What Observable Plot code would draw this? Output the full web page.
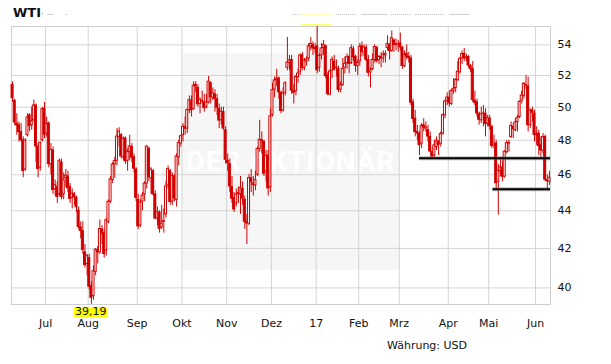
<!DOCTYPE html>
<html><head><meta charset="utf-8">
<script src="https://cdn.jsdelivr.net/npm/d3@7"></script>
<script src="https://cdn.jsdelivr.net/npm/@observablehq/plot@0.6"></script>
<style>
body{margin:0;background:#fff;}
#wrap{position:relative;width:611px;height:364px;overflow:hidden;font-family:"DejaVu Sans",sans-serif;color:#111;}
#wrap svg{position:absolute;left:0;top:0;}
.abs{position:absolute;}
#wm{left:182px;top:53px;width:218px;height:217px;background:#f6f6f6;border-radius:4px;
  color:#fff;font:bold 28px "Roboto","DejaVu Sans",sans-serif;letter-spacing:1px;text-align:center;line-height:217px;white-space:nowrap;}
#title{left:13px;top:5px;font-weight:bold;font-size:13px;line-height:15px;}
#cur{left:387px;top:339px;font-size:11px;line-height:13px;}
.lab{background:#ffff00;font-size:11px;line-height:10px;height:10px;padding:0 1px;text-align:center;}
.dot{height:0;border-top:1px dotted #c4c4c4;}
.dash{height:1px;background:#d0d0d0;}
</style></head><body><div id="wrap"><div id="wm" class="abs">DER AKTIONÄR</div></div>
<script>
// Daily OHLC, WTI, 9 Jun 2016 .. 9 Jun 2017 (trading-day index)
const open = [51.40,50.40,49.00,48.90,48.50,48.00,46.30,48.30,49.50,48.90,49.20,50.10,47.60,46.40,48.00,49.90,
48.40,49.00,46.60,47.40,45.20,45.30,44.90,46.70,44.90,45.80,45.90,45.30,44.70,44.90,44.70,44.00,43.10,42.90,41.80,41.20,
41.50,40.10,39.60,40.80,41.90,41.80,43.00,42.80,41.90,43.40,44.50,45.70,46.60,46.80,48.20,48.30,47.00,48.10,46.80,47.30,47.60,47.00,46.30,
44.60,43.20,44.50,44.90,45.50,47.50,45.80,46.20,44.90,43.60,43.90,43.10,43.40,43.80,45.40,46.20,44.50,45.90,44.60,47.00,47.80,
48.30,48.80,48.70,49.80,50.40,49.90,51.40,51.20,50.20,50.40,50.30,50.00,50.30,51.50,50.60,50.80,50.50,49.90,49.20,49.70,48.60,
46.80,46.60,45.30,44.70,44.40,44.90,44.90,45.20,44.60,43.40,43.30,45.80,45.50,45.40,46.00,47.50,48.00,47.90,46.20,47.10,45.30,
49.50,51.10,51.70,51.80,50.90,49.80,50.90,52.50,52.80,53.00,51.00,51.00,51.90,52.20,53.30,52.50,52.90,53.10,53.90,54.00,53.80,
53.90,52.50,53.30,53.80,53.90,52.00,50.80,52.30,52.90,52.50,52.40,51.10,51.40,52.50,52.80,53.20,52.80,53.70,53.20,52.60,
52.90,53.90,53.50,53.80,53.00,52.20,52.40,53.00,53.80,53.00,53.20,53.10,53.30,53.80,54.00,53.60,54.30,54.00,54.00,
54.10,53.80,52.60,53.40,53.20,53.10,50.30,49.30,48.50,48.40,47.80,48.90,48.70,48.60,48.20,47.30,47.10,47.60,47.90,47.80,48.40,49.50,50.40,
50.60,50.20,51.00,51.20,51.70,52.20,53.10,53.40,53.10,53.20,52.60,52.40,50.40,50.30,49.60,49.20,49.60,49.60,49.00,
49.30,48.80,47.70,47.80,45.60,46.20,46.40,45.90,47.30,47.80,48.20,48.80,48.60,49.10,49.40,50.40,50.70,51.40,51.30,48.90,49.80,49.60,
48.30,48.40,47.70,47.40,48.20,45.70,45.60];
const high = [51.60,50.50,49.60,49.10,49.00,48.20,48.10,49.60,49.60,50.00,50.45,50.20,47.80,47.90,50.00,50.30,
49.40,49.10,47.80,47.60,45.70,45.60,46.90,46.90,46.10,46.30,46.20,45.50,45.20,45.00,44.80,44.20,43.40,43.40,42.20,41.70,
41.70,40.30,41.10,42.00,42.10,43.50,43.20,43.00,43.60,44.60,45.90,46.70,47.00,48.70,48.75,48.40,48.20,48.20,47.50,48.30,47.80,47.20,46.40,
44.90,44.60,45.00,45.60,47.70,47.60,46.40,46.30,45.10,44.20,44.00,44.30,44.10,45.60,46.50,46.30,46.10,46.00,47.20,48.00,48.30,
49.00,49.40,49.90,50.70,50.70,51.60,51.60,51.40,50.60,51.00,50.80,50.80,51.93,51.60,51.20,51.10,50.80,50.20,50.00,50.00,48.80,
47.20,46.90,45.90,45.00,45.20,45.30,45.90,45.60,44.80,43.80,46.00,46.30,45.90,46.20,47.60,49.20,48.50,48.00,47.40,47.40,49.90,
51.50,51.90,52.40,51.90,51.00,51.20,51.60,54.50,53.30,53.30,51.40,52.00,52.40,53.40,53.50,53.10,53.20,54.10,54.50,54.20,54.10,
55.24,53.40,54.10,54.30,54.00,52.20,52.40,53.20,53.30,53.00,52.60,51.60,53.10,53.20,53.40,53.30,54.00,53.90,53.30,53.00,
54.10,54.20,54.00,54.00,53.30,52.50,53.40,54.00,53.90,53.30,53.50,53.60,53.60,54.60,54.10,54.94,54.40,54.40,54.30,
54.80,53.90,53.60,54.00,53.50,53.30,50.50,49.80,48.90,48.50,49.00,49.30,49.10,48.90,48.50,47.60,48.00,48.20,48.00,48.50,49.60,50.45,50.90,
51.00,51.10,51.80,51.80,52.90,53.15,53.60,53.76,53.40,53.30,52.70,52.90,51.00,50.50,49.70,50.00,50.10,49.90,49.50,
49.50,48.90,48.30,48.00,46.60,47.00,46.80,47.40,48.00,48.00,49.10,49.00,49.30,49.50,50.40,51.00,51.55,52.00,51.90,49.90,50.00,49.80,
48.80,48.60,48.20,48.40,48.30,46.00,46.20];
const low = [50.30,48.90,48.30,47.90,47.90,45.83,46.20,48.20,48.50,48.60,49.10,46.70,45.83,46.20,47.90,48.10,
48.20,46.40,46.00,44.90,44.80,44.40,44.80,44.60,44.60,45.30,45.00,44.40,44.10,44.30,43.90,43.00,42.50,41.70,41.00,40.60,
39.90,39.19,39.40,40.60,41.20,41.70,42.20,41.50,41.60,43.30,44.40,45.50,45.80,46.50,47.60,46.90,46.80,46.60,46.20,46.80,46.70,46.10,44.50,
43.00,43.10,44.00,44.50,45.20,45.60,44.90,44.80,43.50,43.20,42.80,43.00,42.80,43.60,45.20,44.30,44.30,44.50,44.20,46.50,47.60,
47.90,48.30,48.40,49.60,49.40,49.80,50.90,50.00,49.60,50.20,49.70,49.90,50.20,50.20,50.40,49.70,49.50,48.70,48.90,48.60,46.60,
46.20,45.00,44.40,43.90,44.20,44.40,43.80,44.30,43.00,42.20,43.20,45.00,44.80,45.10,45.90,47.30,47.20,45.90,45.60,44.80,45.00,
49.40,50.60,51.30,50.50,49.60,49.70,50.70,52.30,52.30,50.80,50.20,50.70,51.50,52.00,52.30,52.30,52.60,52.90,53.60,53.30,53.40,
52.11,52.20,53.00,53.30,51.80,50.70,50.70,51.80,52.30,51.90,50.90,50.90,51.30,52.10,52.40,52.10,52.70,52.90,52.20,52.00,
52.60,53.20,53.20,52.90,51.90,51.20,52.30,52.80,52.80,52.70,52.50,52.80,52.80,53.60,53.00,53.50,53.50,53.60,53.50,
53.60,52.40,52.50,53.00,52.80,50.10,49.00,48.20,48.00,47.10,47.50,48.50,48.50,47.90,47.30,47.00,47.00,47.40,47.10,47.60,48.30,49.30,50.10,
50.00,50.10,50.80,50.90,51.60,52.10,52.70,52.90,52.90,52.50,52.20,50.30,50.10,49.40,48.90,49.00,48.80,48.20,48.80,
48.60,47.50,47.50,45.20,43.76,45.90,45.60,45.80,47.20,47.30,48.10,48.10,48.50,48.50,49.30,50.20,50.50,51.10,48.50,48.70,49.10,47.90,
47.70,47.10,47.00,47.20,45.60,45.20,45.40];
const close = [50.56,49.07,48.88,48.49,48.01,46.21,47.98,49.37,48.85,49.13,50.11,47.64,46.33,47.85,49.88,48.33,
48.99,46.60,47.43,45.14,45.41,44.76,46.80,44.75,45.68,45.95,45.24,44.65,44.94,44.75,44.19,43.13,42.92,41.92,41.14,41.60,
40.06,39.51,40.83,41.93,41.80,43.02,42.77,41.71,43.49,44.49,45.74,46.58,46.79,48.22,48.52,47.05,48.10,46.77,47.33,47.64,46.98,46.35,44.70,
43.16,44.44,44.83,45.50,47.62,45.88,46.29,44.90,43.58,43.91,43.03,43.30,43.44,45.34,46.32,44.48,45.93,44.67,47.05,47.83,48.24,
48.81,48.69,49.83,50.44,49.81,51.35,51.29,50.18,50.44,50.35,49.94,50.29,51.60,50.63,50.85,50.52,49.96,49.18,49.72,48.70,46.86,
46.67,45.34,44.66,44.07,44.89,44.98,45.27,44.66,43.41,43.32,45.81,45.57,45.42,45.69,47.49,48.03,47.96,46.06,47.08,45.23,49.44,
51.06,51.68,51.79,50.93,49.77,50.84,51.50,52.83,52.98,51.04,50.90,51.90,52.12,53.30,52.49,52.95,53.02,53.90,54.06,53.77,53.72,
52.33,53.26,53.76,53.99,51.96,50.82,52.25,53.01,52.37,52.48,51.08,51.37,52.42,52.75,53.18,52.75,53.78,53.17,52.63,52.81,
53.88,53.54,53.83,53.01,52.17,52.34,53.00,53.86,52.93,53.20,53.11,53.36,53.40,54.06,53.59,54.45,53.99,54.05,54.01,
53.83,52.61,53.33,53.20,53.14,50.28,49.28,48.49,48.40,47.72,48.86,48.75,48.78,48.22,47.34,47.04,47.70,47.97,47.73,48.37,49.51,50.35,50.60,
50.24,51.03,51.15,51.70,52.24,53.08,53.40,53.11,53.18,52.65,52.41,50.44,50.27,49.62,49.23,49.56,49.62,48.97,49.33,
48.84,47.66,47.82,45.52,46.22,46.43,45.88,47.33,47.83,47.84,48.85,48.66,49.07,49.35,50.33,50.73,51.47,51.36,48.90,49.80,49.66,48.32,
48.36,47.66,47.40,48.19,45.72,45.64,45.83];

const monthIdx = [16,36,59,80,101,122,143,163,182,205,224,246];
const monthLabels = ["Jul","Aug","Sep","Okt","Nov","Dez","17","Feb","Mrz","Apr","Mai","Jun"];
const yTicks = [40,42,44,46,48,50,52,54];
const supportLevels = [46.94, 45.18];
const supportFrom = [191.5, 226];
const currency = "Währung: USD";
const title = "WTI";

const red = "#d20000";
const candles = open.map((o,i)=>({i, x:i+0.5, open:o, high:high[i], low:low[i], close:close[i], up: close[i] >= o}));
const supports = supportLevels.map((v,k)=>({level:v, from:supportFrom[k], to:open.length}));
const W = 0.47;

const plot = Plot.plot({
  width: 611, height: 364,
  marginTop: 26, marginBottom: 60, marginLeft: 11, marginRight: 61,
  x: {type: "linear", domain: [0, open.length]},
  y: {type: "log", domain: [d3.min(low), d3.max(high)]},
  style: {background: "transparent", fontFamily: "DejaVu Sans, sans-serif", fontSize: "11px", color: "#111", overflow: "visible"},
  marks: [
    Plot.ruleY(yTicks, {stroke: "#d4d4d4", strokeOpacity: 1}),
    Plot.ruleX(monthIdx, {stroke: "#d4d4d4", strokeOpacity: 1}),
    Plot.frame({stroke: "#cfcfcf"}),
    Plot.ruleX(candles, {x: "x", y1: "low", y2: "high", stroke: red, strokeWidth: 1}),
    Plot.rect(candles, {x1: d => d.x - W, x2: d => d.x + W, y1: "open", y2: "close",
      fill: d => d.up ? "#ffffff" : red, stroke: red, strokeWidth: 1}),
    Plot.ruleY(supports, {y: "level", x1: "from", x2: "to", stroke: "#666", strokeWidth: 4, strokeOpacity: 0.45}),
    Plot.ruleY(supports, {y: "level", x1: "from", x2: "to", stroke: "#000", strokeWidth: 2}),
    Plot.axisY({anchor: "right", ticks: yTicks, tickSize: 0, tickPadding: 7, label: null, tickFormat: d => String(d)}),
    Plot.axisX({ticks: monthIdx, tickSize: 0, tickPadding: 15, label: null, tickFormat: d => monthLabels[monthIdx.indexOf(d)]})
  ]
});

const wrap = document.getElementById("wrap");
wrap.appendChild(plot);

function addDiv(cls, css, text){
  const el = document.createElement("div");
  el.className = "abs " + cls;
  Object.assign(el.style, css);
  if (text) el.textContent = text;
  wrap.appendChild(el);
  return el;
}
const t = addDiv("", {}, title); t.id = "title";
const c = addDiv("", {}, currency); c.id = "cur";
// faint header marks
addDiv("dash", {left:"42px", top:"13px", width:"1px", background:"#999"});
addDiv("dash", {left:"47px", top:"14px", width:"7px"});
addDiv("dash", {left:"65px", top:"14px", width:"2px"});
[[293,300],[336,355],[391,410],[415,443]].forEach(([a,b]) => addDiv("dot", {left:a+"px", top:"14px", width:(b-a)+"px"}));
[[361,387],[449,470]].forEach(([a,b]) => addDiv("dash", {left:a+"px", top:"14px", width:(b-a)+"px"}));

// min / max labels positioned with the plot's scales
const xs = plot.scale("x");
const iMin = low.indexOf(d3.min(low));
const iMax = high.indexOf(d3.max(high));
const minLab = addDiv("lab", {top:"307px"}, String(d3.min(low)).replace(".", ","));
minLab.style.left = (xs.apply(iMin + 0.5) - minLab.offsetWidth / 2) + "px";
const maxBox = addDiv("", {top:"14px", width:"31px", height:"9px", borderTop:"1px solid #ffffb8", borderBottom:"1px solid #ffff70"});
maxBox.style.left = (xs.apply(iMax + 0.5) - 15.5) + "px";
</script></body></html>
